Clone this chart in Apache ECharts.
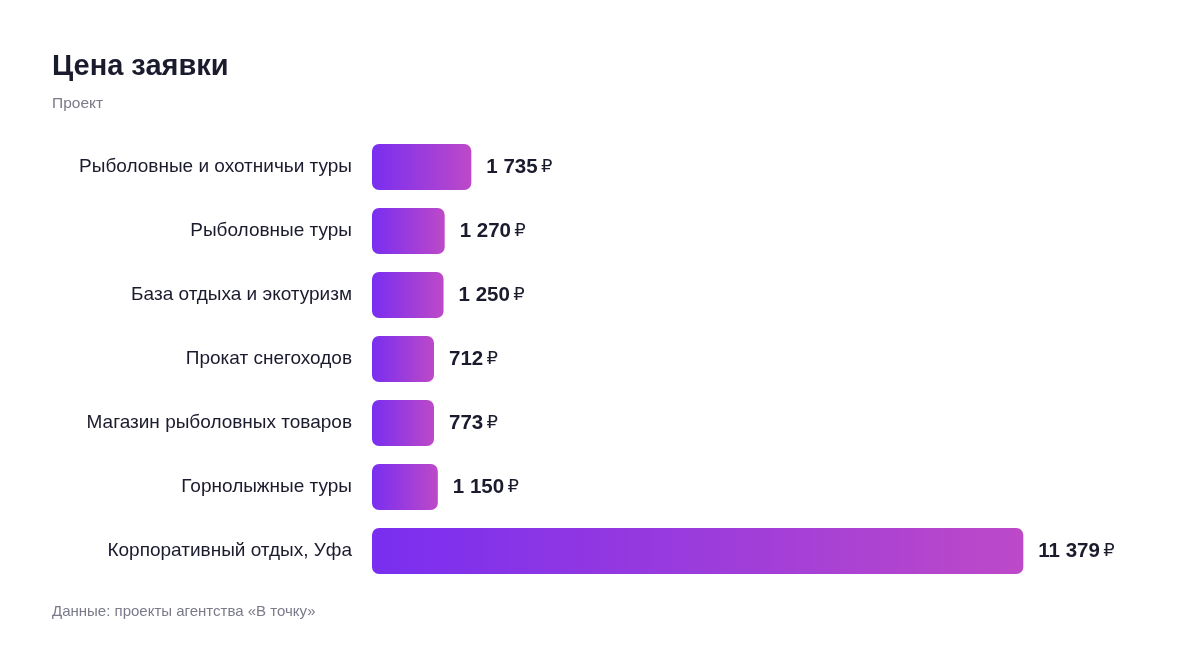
<!DOCTYPE html>
<html>
<head>
<meta charset="utf-8">
<script src="https://cdn.jsdelivr.net/npm/echarts@6/dist/echarts.min.js"></script>
<style>
html,body{margin:0;padding:0;background:#fff;}
#c{width:1200px;height:648px;}
</style>
</head>
<body>
<div id="c"></div>
<script>
const categories = [
  "Рыболовные и охотничьи туры",
  "Рыболовные туры",
  "База отдыха и экотуризм",
  "Прокат снегоходов",
  "Магазин рыболовных товаров",
  "Горнолыжные туры",
  "Корпоративный отдых, Уфа"
];
const values = [1735, 1270, 1250, 712, 773, 1150, 11379];
const titleText = "Цена заявки";
const subtitleText = "Проект";
const footerText = "Данные: проекты агентства «В точку»";

const fmt = v => String(v).replace(/\B(?=(\d{3})+(?!\d))/g, " ");
const FONT = "Liberation Sans, Arial, sans-serif";

const chart = echarts.init(document.getElementById('c'));
chart.setOption({
  animation: false,
  backgroundColor: '#ffffff',
  title: [
    {text: titleText, left: 52, top: 52, padding: 0,
     textStyle: {fontFamily: FONT, fontSize: 29, fontWeight: 'bold', color: '#1b1b2e'}},
    {text: subtitleText, left: 52, top: 96, padding: 0,
     textStyle: {fontFamily: FONT, fontSize: 15.5, fontWeight: 'normal', color: '#7a7a8a'}},
    {text: footerText, left: 52, top: 604, padding: 0,
     textStyle: {fontFamily: FONT, fontSize: 15, fontWeight: 'normal', color: '#7a7a8a'}}
  ],
  grid: {left: 372, right: 176.7, top: 135, height: 448, containLabel: false},
  xAxis: {
    type: 'value', min: 0, max: 11379,
    show: false
  },
  yAxis: {
    type: 'category', data: categories, inverse: true,
    axisLine: {show: false}, axisTick: {show: false}, splitLine: {show: false},
    axisLabel: {fontFamily: FONT, fontSize: 19, color: '#1b1b2e', margin: 20, padding: [2, 0, 0, 0]}
  },
  series: [{
    type: 'bar',
    data: values,
    barWidth: 46,
    barMinHeight: 62,
    itemStyle: {
      borderRadius: 7,
      color: new echarts.graphic.LinearGradient(0, 0, 1, 0, [
        {offset: 0, color: '#792ef0'},
        {offset: 1, color: '#bd49c8'}
      ])
    },
    label: {
      show: true, position: 'right', distance: 15,
      formatter: p => '{v|' + fmt(p.value) + '} {r|₽}',
      rich: {
        v: {fontFamily: FONT, fontSize: 20.5, fontWeight: 'bold', color: '#1b1b2e'},
        r: {fontFamily: "DejaVu Sans, sans-serif", fontSize: 18, fontWeight: 'normal', color: '#1b1b2e'}
      }
    }
  }]
});
</script>
</body>
</html>
